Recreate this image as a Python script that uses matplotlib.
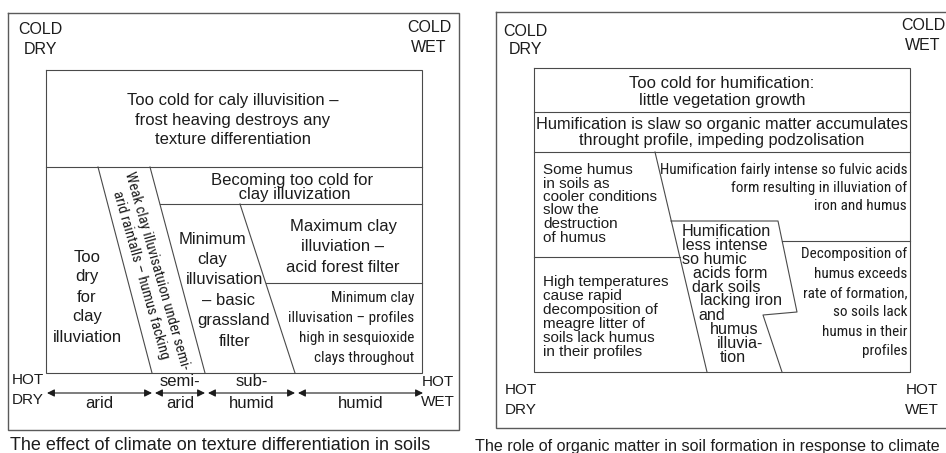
#!/usr/bin/env python3
"""Two climate/soil diagrams side by side, drawn on a pixel-sized canvas."""

import matplotlib
matplotlib.use("Agg")
import matplotlib.pyplot as plt
from matplotlib import font_manager
from matplotlib.font_manager import FontProperties

# ---------------------------------------------------------------------------
# Configuration (all coordinates in canvas pixels, x right, y down)
# ---------------------------------------------------------------------------

W, H = 946, 453
INK = "#1c1c1c"
RULE = "#4a4a4a"
SANS = ["Liberation Sans", "DejaVu Sans"]

# --- left panel: texture differentiation -----------------------------------
LEFT_FRAME = (8, 13, 459, 430)          # x0, y0, x1, y1
LEFT_INNER = (46, 70, 422, 373)
LEFT_RULES = [
    [(46, 167), (422, 167)],
    [(98, 167), (152, 373)],
    [(150, 167), (205, 373)],
    [(160, 204), (422, 204)],
    [(240, 204), (295, 373)],
    [(266, 283), (422, 283)],
]
ZONE_EDGES = [(47, 152), (155, 205), (208, 295), (298, 423)]
ZONE_TOP = ["", "semi-", "sub-", ""]
ZONE_BOTTOM = ["arid", "arid", "humid", "humid"]

TOO_COLD = ["Too cold for caly illuvisition \u2013",
            "frost heaving destroys any",
            "texture differentiation"]
BECOMING = ["Becoming too cold for", " clay illuvization"]
MAXIMUM = ["Maximum clay", "illuviation \u2013", "acid forest filter"]
SESQUI = ["Minimum clay", "illuvisation \u2013 profiles",
          "high in sesquioxide", "clays throughout"]
TOO_DRY = ["Too", "dry", "for", "clay", "illuviation"]
GRASSLAND = ["Minimum", "clay", "illuvisation", "\u2013 basic", "grassland", "filter"]
WEAK_BAND = "Weak clay illuvisatuion under semi-\narid raintalls \u2013 humus facking"
LEFT_CAPTION = "The effect of climate on texture differentiation in soils"

# --- right panel: organic matter --------------------------------------------
RIGHT_FRAME = (496, 12, 948, 428)
RIGHT_INNER = (534, 68, 910, 372)
RIGHT_RULES = [
    [(534, 112), (910, 112)],
    [(534, 152), (910, 152)],
    [(655, 152), (707, 372)],
    [(534, 257), (680, 257)],
    [(671, 221), (778, 221), (797, 312), (763, 315), (782, 372)],
    [(782, 241), (910, 241)],
]
NO_HUMUS = ["Too cold for humification:", "little vegetation growth"]
SLOW = ["Humification is slaw so organic matter accumulates",
        "throught profile, impeding podzolisation"]
SOME_HUMUS = ["Some humus", "in soils as", "cooler conditions", "slow the",
              "destruction", "of humus"]
HIGH_TEMP = ["High temperatures", "cause rapid", "decomposition of",
             "meagre litter of", "soils lack humus", "in their profiles"]
FULVIC = ["Humification fairly intense so fulvic acids",
          "form resulting in illuviation of", "iron and humus"]
HUMIC = ["Humification", "less intense", "so humic", "acids form", "dark soils",
         "lacking iron", "and", "humus", "illuvia-", "tion"]
DECOMP = ["Decomposition of", "humus exceeds", "rate of formation,",
          "so soils lack", "humus in their", "profiles"]
RIGHT_CAPTION = "The role of organic matter in soil formation in response to climate"

# ---------------------------------------------------------------------------
# Narrow face: use a real condensed font if one is installed, else shrink
# ---------------------------------------------------------------------------

def pick_narrow():
    entries = font_manager.fontManager.ttflist
    for name, scale in (("Liberation Sans Narrow", 1.0), ("Arial Narrow", 1.0),
                        ("Roboto Condensed", 0.95), ("Open Sans Condensed", 0.92),
                        ("Noto Sans Condensed", 0.92)):
        for e in entries:
            if e.name == name and e.style == "normal" and str(e.weight) in ("400", "normal", "regular", "book"):
                return e.fname, scale
    for fam, scale in (("Noto Sans", 0.92), ("Open Sans", 0.92),
                       ("Roboto", 0.95), ("DejaVu Sans", 0.86)):
        for e in entries:
            if (e.name == fam and e.stretch == "condensed" and e.style == "normal"
                    and str(e.weight) in ("400", "normal", "regular", "book")):
                return e.fname, scale
    return None, 0.84


NARROW_FILE, NARROW_SCALE = pick_narrow()


def narrow(size):
    if NARROW_FILE:
        return FontProperties(fname=NARROW_FILE, size=size * NARROW_SCALE)
    return FontProperties(family=SANS, size=size * NARROW_SCALE)

# ---------------------------------------------------------------------------
# Helpers
# ---------------------------------------------------------------------------

def frame(ax, box, lw=0.8, color=RULE):
    x0, y0, x1, y1 = box
    ax.plot([x0, x1, x1, x0, x0], [y0, y0, y1, y1, y0], color=color, lw=lw,
            solid_joinstyle="miter")


def rules(ax, polylines):
    for pts in polylines:
        xs, ys = zip(*pts)
        ax.plot(xs, ys, color=RULE, lw=0.8)


def block(ax, lines, x, y0, dy, ha="center", size=11, condensed=False):
    xs = x if isinstance(x, (list, tuple)) else [x] * len(lines)
    for i, line in enumerate(lines):
        if condensed:
            ax.text(xs[i], y0 + i * dy, line, ha=ha, va="center",
                    fontproperties=narrow(size), color=INK)
        else:
            ax.text(xs[i], y0 + i * dy, line, ha=ha, va="center", fontsize=size,
                    family=SANS, color=INK)


def main():
    fig = plt.figure(figsize=(W / 100, H / 100), dpi=100)
    ax = fig.add_axes([0, 0, 1, 1])
    ax.set_xlim(0, W)
    ax.set_ylim(H, 0)
    ax.axis("off")

    # ---- left panel ----
    frame(ax, LEFT_FRAME, lw=1.0, color="#5a5a5a")
    frame(ax, LEFT_INNER)
    rules(ax, LEFT_RULES)

    block(ax, ["COLD", "DRY"], 40, 30, 20, size=11.5)
    block(ax, ["COLD", "WET"], 429, 27, 21, size=11.5)
    block(ax, TOO_COLD, 233, 100, 20, size=12)
    block(ax, BECOMING, 292, 180, 14, size=12)
    block(ax, MAXIMUM, 343, 226, 20.5, size=12)
    block(ax, SESQUI, 414, 298, 20, ha="right", size=11.5, condensed=True)
    block(ax, TOO_DRY, 87, 257, 20, size=12)
    block(ax, GRASSLAND, [212, 212, 225, 228, 234, 235], 239, 20.5, size=12)
    ax.text(149, 273, WEAK_BAND, rotation=-74, rotation_mode="anchor",
            ha="center", va="center", multialignment="center",
            fontproperties=narrow(11.2), color=INK, linespacing=1.3)

    for (x0, x1), top, bottom in zip(ZONE_EDGES, ZONE_TOP, ZONE_BOTTOM):
        ax.annotate("", xy=(x1, 393), xytext=(x0, 393),
                    arrowprops=dict(arrowstyle="<|-|>", color=INK, lw=0.8,
                                    mutation_scale=11, shrinkA=0, shrinkB=0))
        mid = (x0 + x1) / 2
        if top:
            ax.text(mid, 382, top, ha="center", va="center", fontsize=12,
                    family=SANS, color=INK)
        ax.text(mid, 403, bottom, ha="center", va="center", fontsize=12,
                family=SANS, color=INK)

    block(ax, ["HOT", "DRY"], 28, 380, 20, size=11)
    block(ax, ["HOT", "WET"], 438, 382, 20, size=11)
    ax.text(10, 445, LEFT_CAPTION, ha="left", va="center", fontsize=13,
            family=SANS, color=INK)

    # ---- right panel ----
    frame(ax, RIGHT_FRAME, lw=1.0, color="#5a5a5a")
    frame(ax, RIGHT_INNER)
    rules(ax, RIGHT_RULES)

    block(ax, ["COLD", "DRY"], 525, 31, 19, size=11.5)
    block(ax, ["COLD", "WET"], 923, 26, 20, size=11.5)
    block(ax, NO_HUMUS, 722, 83, 18, size=12)
    block(ax, SLOW, 722, 124, 17, size=11.8)
    block(ax, SOME_HUMUS, 543, 170, 13.5, ha="left", size=11)
    block(ax, HIGH_TEMP, 543, 282, 14, ha="left", size=11)
    block(ax, HUMIC, [682, 682, 682, 693, 692, 700, 698, 710, 717, 720],
          231, 14, ha="left", size=11.6)
    block(ax, FULVIC, 907, 170, 18, ha="right", size=11.5, condensed=True)
    block(ax, DECOMP, 907, 254, 19.5, ha="right", size=11.5, condensed=True)
    block(ax, ["HOT", "DRY"], 521, 390, 20, size=11)
    block(ax, ["HOT", "WET"], 922, 390, 20, size=11)
    ax.text(475, 446, RIGHT_CAPTION, ha="left", va="center", fontsize=11.6,
            family=SANS, color=INK)

    fig.savefig("out.png", dpi=100)


if __name__ == "__main__":
    main()
